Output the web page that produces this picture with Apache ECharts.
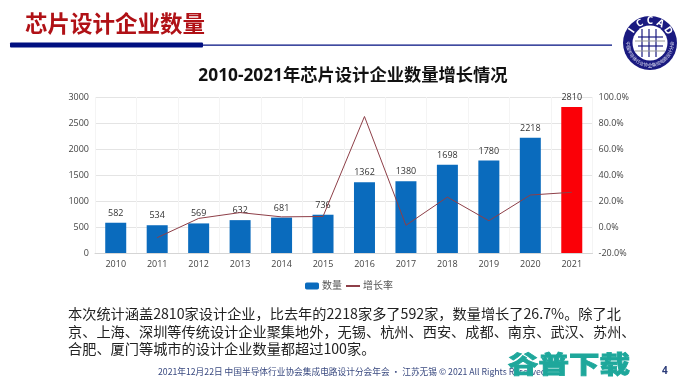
<!DOCTYPE html>
<html><head><meta charset="utf-8">
<style>html,body{margin:0;padding:0;background:#fff}#c{width:686px;height:386px}</style>
<script src="https://cdn.jsdelivr.net/npm/echarts@6/dist/echarts.min.js"></script>
</head><body><div id="c"></div>
<script>
const years=['2010','2011','2012','2013','2014','2015','2016','2017','2018','2019','2020','2021'];
const counts=[582,534,569,632,681,736,1362,1380,1698,1780,2218,2810];
const growth=[null,-8.2,6.6,11.1,7.8,8.1,85,1.3,23,4.8,24.6,26.7];
const FONT='"Open Sans","Noto Sans CJK SC",sans-serif';
const CJK='"Noto Sans CJK SC","Noto Sans",sans-serif';
const paragraph=['本次统计涵盖2810家设计企业，比去年的2218家多了592家，数量增长了26.7%。除了北','京、上海、深圳等传统设计企业聚集地外，无锡、杭州、西安、成都、南京、武汉、苏州、','合肥、厦门等城市的设计企业数量都超过100家。'];
const footer='2021年12月22日 中国半导体行业协会集成电路设计分会年会 · 江苏无锡 © 2021 All Rights Reserved';
const NAVY='#000f80';
const g=[];
g.push({type:'text',left:25,top:12,style:{text:'芯片设计企业数量',font:'bold 22.5px '+CJK,fill:'#b01116'}});
g.push({type:'rect',shape:{x:10,y:42.5,width:193,height:5,r:1},style:{fill:NAVY}});
g.push({type:'rect',shape:{x:203,y:44.5,width:409,height:1.2},style:{fill:NAVY}});
paragraph.forEach((t,i)=>g.push({type:'text',left:68,top:307+i*17.5,style:{text:t,font:'14.2px '+CJK,fill:'#222'}}));
g.push({type:'text',left:158,top:367,style:{text:footer,font:'8.7px '+CJK,fill:'#3a4a80'}});
g.push({type:'text',left:662,top:366,style:{text:'4',font:'bold 10px '+FONT,fill:'#2a3a78'}});
g.push({type:'text',x:508,y:364,scaleY:.78,z:20,style:{text:'谷普下载',font:'900 30.5px '+CJK,fill:'#1ea79b',stroke:'#1ea79b',lineWidth:1,align:'left',verticalAlign:'middle'}});
// logo
const cx=650,cy=43;
g.push({type:'circle',shape:{cx,cy,r:27},style:{fill:'#1a1a80'}});
g.push({type:'circle',shape:{cx,cy,r:17.5},style:{fill:'#fff'}});
[-7,0,7].forEach(d=>{
 g.push({type:'line',shape:{x1:cx+d-1,y1:cy-14,x2:cx+d-1,y2:cy+14},style:{stroke:'#1a1a80',lineWidth:1.2}});
});
[-6,3].forEach(d=>g.push({type:'line',shape:{x1:cx-12,y1:cy+d,x2:cx+13,y2:cy+d},style:{stroke:'#1a1a80',lineWidth:1.2}}));
[-2,8].forEach(d=>g.push({type:'line',shape:{x1:cx-15,y1:cy+d,x2:cx+15,y2:cy+d},style:{stroke:'#999',lineWidth:1}}));
[['I',-56],['C',-28],['C',0],['A',28],['D',56]].forEach(([t,a])=>{
 const r=a*Math.PI/180;
 g.push({type:'text',x:cx+22*Math.sin(r),y:cy-22*Math.cos(r),rotation:-r,style:{text:t,font:'bold 10px '+FONT,fill:'#fff',align:'center',verticalAlign:'middle'}});
});
'中国半导体行业协会集成电路设计分会'.split('').forEach((t,i,arr)=>{
 const deg=268-i*(176/(arr.length-1));
 const a=deg*Math.PI/180;
 g.push({type:'text',x:cx+22*Math.sin(a),y:cy-22*Math.cos(a),rotation:-(deg-180)*Math.PI/180,style:{text:t,font:'4.5px '+CJK,fill:'#dfe0f2',align:'center',verticalAlign:'middle'}});
});
const chart=echarts.init(document.getElementById('c'),null,{renderer:'canvas'});
chart.setOption({
 animation:false,
 backgroundColor:'#fff',
 textStyle:{fontFamily:FONT},
 title:{text:'2010-2021年芯片设计企业数量增长情况',left:348,textAlign:'center',top:62,textStyle:{fontFamily:FONT,fontSize:17.3,fontWeight:'bold',color:'#111'}},
 grid:{left:95,right:93.5,top:97,bottom:133,containLabel:false},
 legend:{left:300,top:276,itemWidth:14,itemHeight:7,itemGap:3,itemStyle:{},textStyle:{fontSize:10,color:'#555',padding:[0,0,0,-2]},
  data:[{name:'数量'},{name:'增长率',itemStyle:{opacity:0}}]},
 xAxis:{type:'category',data:years,axisTick:{show:false},axisLine:{lineStyle:{color:'#d5d5d5'}},axisLabel:{fontSize:9,color:'#444',margin:7},splitLine:{show:true,lineStyle:{color:'#f4f4f4'}}},
 yAxis:[
  {type:'value',min:0,max:3000,interval:500,axisLabel:{fontSize:9,color:'#444',margin:6,formatter:v=>String(v)},axisLine:{show:false},axisTick:{show:false},splitLine:{lineStyle:{color:'#e4e4e4'}}},
  {type:'value',min:-20,max:100,interval:20,axisLabel:{fontSize:9,color:'#444',margin:6,formatter:v=>v.toFixed(1)+'%'},axisLine:{show:false},axisTick:{show:false},splitLine:{show:false}}
 ],
 series:[
  {name:'数量',type:'bar',barWidth:21,yAxisIndex:0,itemStyle:{color:'#0a6bbd'},data:counts.map((v,i)=>i===counts.length-1?{value:v,itemStyle:{color:'#fb0007'}}:v),label:{show:true,position:'top',distance:5,fontSize:9,color:'#333'}},
  {name:'增长率',type:'line',yAxisIndex:1,data:growth,symbol:'none',connectNulls:false,smooth:false,z:5,lineStyle:{color:'#8e3f48',width:1},itemStyle:{color:'#8e3f48'}}
 ],
 graphic:g
});
</script></body></html>
